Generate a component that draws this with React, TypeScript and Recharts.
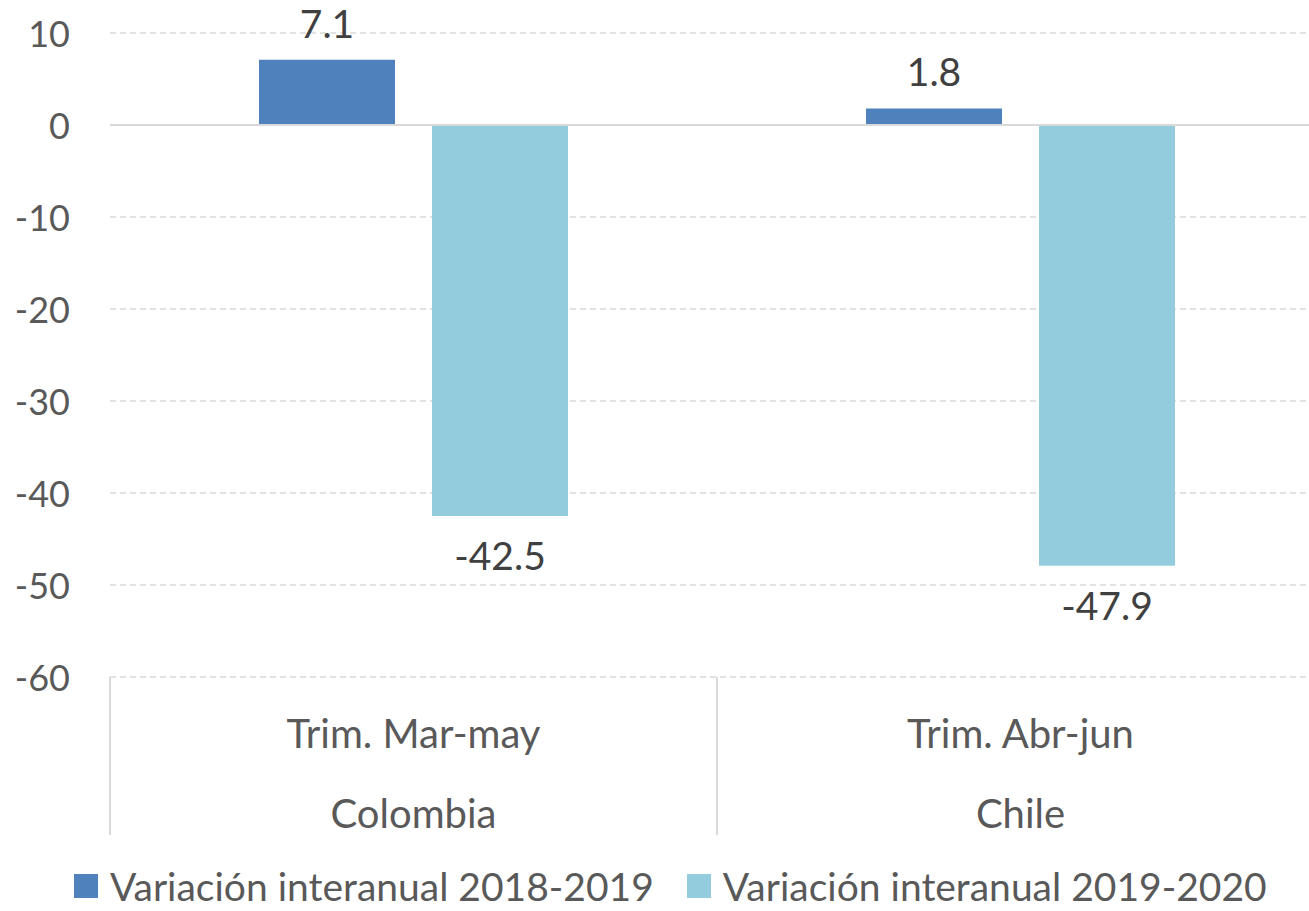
import React from "react";
import { BarChart, Bar, XAxis, YAxis, CartesianGrid, ReferenceLine, Legend, LabelList } from "recharts";

const periods = ["Trim. Mar-may", "Trim. Abr-jun"];
const countries = ["Colombia", "Chile"];
const var2018_2019 = [7.1, 1.8];
const var2019_2020 = [-42.5, -47.9];
const yTicks = [10, 0, -10, -20, -30, -40, -50, -60];
const seriesNames = ["Variación interanual 2018-2019", "Variación interanual 2019-2020"];
const seriesColors = ["#4f81bd", "#93cddd"];

const data = periods.map((p, i) => ({
  period: p,
  country: countries[i],
  a: var2018_2019[i],
  b: var2019_2020[i],
}));

const FONT = "Lato, 'Open Sans', sans-serif";
const FS = 40;
const FS_Y = 36;
const FS_LEG = 39;
const FS_LBL = 39;

const CHART_W = 1340;
const CHART_H = 911;
const MARGIN = { top: 33, right: 16, bottom: 0, left: 0 };
const Y_W = 110;

const XTick = (props: any) => {
  const { x, y, payload, index } = props;
  const base = y - 8;
  const half =
    payload && typeof payload.offset === "number" && payload.offset > 0
      ? payload.offset
      : (CHART_W - MARGIN.left - MARGIN.right - Y_W) / periods.length / 2;
  const country = data[index] ? data[index].country : "";
  return (
    <g>
      <line x1={x - half} x2={x - half} y1={base} y2={base + 158} stroke="#d9d9d9" strokeWidth={2} />
      {index === periods.length - 1 && (
        <line x1={x + half} x2={x + half} y1={base} y2={base + 158} stroke="#d9d9d9" strokeWidth={2} />
      )}
      <text x={x} y={base + 56} textAnchor="middle" dominantBaseline="central" fill="#595959" fontSize={FS} fontFamily={FONT}>
        {payload.value}
      </text>
      <text x={x} y={base + 136} textAnchor="middle" dominantBaseline="central" fill="#595959" fontSize={FS} fontFamily={FONT}>
        {country}
      </text>
    </g>
  );
};

const YTick = (props: any) => {
  const { x, y, payload } = props;
  return (
    <text x={x} y={y} textAnchor="end" dominantBaseline="central" fill="#595959" fontSize={FS_Y} fontFamily={FONT}>
      {payload.value}
    </text>
  );
};

const ValueLabel = (props: any) => {
  const { x, y, width, height, value } = props;
  const top = Math.min(y, y + height);
  const bottom = Math.max(y, y + height);
  const cy = value >= 0 ? top - 37 : bottom + 39;
  return (
    <text x={x + width / 2} y={cy} textAnchor="middle" dominantBaseline="central" fill="#404040" fontSize={FS_LBL} fontFamily={FONT}>
      {String(value)}
    </text>
  );
};

const LegendContent = () => (
  <div style={{ display: "flex", alignItems: "center", height: 51, paddingLeft: 74, fontFamily: FONT, fontSize: FS_LEG, color: "#595959" }}>
    {seriesNames.map((n, i) => (
      <div key={n} style={{ display: "flex", alignItems: "center", marginRight: i === 0 ? 33 : 0 }}>
        <div style={{ width: 24, height: 24, background: seriesColors[i], marginRight: 12 }} />
        <span style={{ whiteSpace: "nowrap" }}>{n}</span>
      </div>
    ))}
  </div>
);

export default function App() {
  return (
    <div style={{ position: "absolute", left: 0, top: 0, width: 1309, height: 911, overflow: "hidden", background: "#fff" }}>
      <BarChart width={CHART_W} height={CHART_H} data={data} margin={MARGIN} barGap={37} barSize={136}>
        <CartesianGrid vertical={false} stroke="#d9d9d9" strokeDasharray="6 4" strokeWidth={1.5} />
        <XAxis dataKey="period" axisLine={false} tickLine={false} height={183} tick={<XTick />} interval={0} />
        <YAxis
          domain={[-60, 10]}
          ticks={yTicks}
          width={Y_W}
          axisLine={false}
          tickLine={false}
          tickSize={0}
          tickMargin={40}
          tick={<YTick />}
          interval={0}
        />
        <ReferenceLine y={0} stroke="#d9d9d9" strokeWidth={2} />
        <Legend verticalAlign="bottom" height={51} content={<LegendContent />} />
        <Bar dataKey="a" name={seriesNames[0]} fill={seriesColors[0]} isAnimationActive={false}>
          <LabelList dataKey="a" content={<ValueLabel />} />
        </Bar>
        <Bar dataKey="b" name={seriesNames[1]} fill={seriesColors[1]} isAnimationActive={false}>
          <LabelList dataKey="b" content={<ValueLabel />} />
        </Bar>
      </BarChart>
    </div>
  );
}
